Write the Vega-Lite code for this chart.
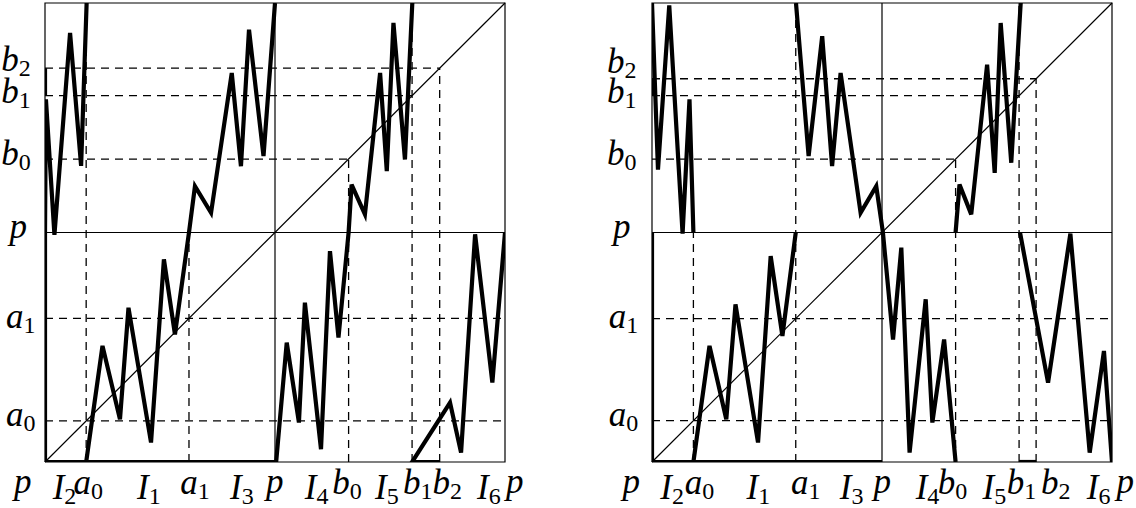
{
"$schema": "https://vega.github.io/schema/vega-lite/v6.json",
"background": "white",
"padding": {"left": 1, "top": 0, "right": 0, "bottom": 0},
"data": {"values": [
{"panel":"L","k":"thin","g":"f","x":0,"y":0},{"panel":"L","k":"thin","g":"f","x":200,"y":0},{"panel":"L","k":"thin","g":"f","x":200,"y":200},{"panel":"L","k":"thin","g":"f","x":0,"y":200},{"panel":"L","k":"thin","g":"f","x":0,"y":0},
{"panel":"L","k":"thin","g":"h","x":0,"y":100},{"panel":"L","k":"thin","g":"h","x":200,"y":100},
{"panel":"L","k":"thin","g":"v","x":100,"y":0},{"panel":"L","k":"thin","g":"v","x":100,"y":200},
{"panel":"L","k":"thin","g":"d","x":0,"y":0},{"panel":"L","k":"thin","g":"d","x":200,"y":200},
{"panel":"R","k":"thin","g":"f","x":0,"y":0},{"panel":"R","k":"thin","g":"f","x":200,"y":0},{"panel":"R","k":"thin","g":"f","x":200,"y":200},{"panel":"R","k":"thin","g":"f","x":0,"y":200},{"panel":"R","k":"thin","g":"f","x":0,"y":0},
{"panel":"R","k":"thin","g":"h","x":0,"y":100},{"panel":"R","k":"thin","g":"h","x":200,"y":100},
{"panel":"R","k":"thin","g":"v","x":100,"y":0},{"panel":"R","k":"thin","g":"v","x":100,"y":200},
{"panel":"R","k":"thin","g":"d","x":0,"y":0},{"panel":"R","k":"thin","g":"d","x":200,"y":200},

{"panel":"L","k":"dash","g":"a0h","x":0,"y":17.9},{"panel":"L","k":"dash","g":"a0h","x":200,"y":17.9},
{"panel":"L","k":"dash","g":"a1h","x":0,"y":62.6},{"panel":"L","k":"dash","g":"a1h","x":200,"y":62.6},
{"panel":"L","k":"dash","g":"a0v","x":17.9,"y":0},{"panel":"L","k":"dash","g":"a0v","x":17.9,"y":200},
{"panel":"L","k":"dash","g":"a1v","x":62.6,"y":0},{"panel":"L","k":"dash","g":"a1v","x":62.6,"y":100},
{"panel":"L","k":"dash","g":"b0h","x":0,"y":132},{"panel":"L","k":"dash","g":"b0h","x":132,"y":132},
{"panel":"L","k":"dash","g":"b0v","x":132,"y":0},{"panel":"L","k":"dash","g":"b0v","x":132,"y":132},
{"panel":"L","k":"dash","g":"b1h","x":0,"y":159.6},{"panel":"L","k":"dash","g":"b1h","x":159.6,"y":159.6},
{"panel":"L","k":"dash","g":"b1v","x":159.6,"y":0},{"panel":"L","k":"dash","g":"b1v","x":159.6,"y":200},
{"panel":"L","k":"dash","g":"b2h","x":0,"y":171.6},{"panel":"L","k":"dash","g":"b2h","x":171.6,"y":171.6},
{"panel":"L","k":"dash","g":"b2v","x":171.6,"y":0},{"panel":"L","k":"dash","g":"b2v","x":171.6,"y":171.6},

{"panel":"R","k":"dash","g":"a0h","x":0,"y":18},{"panel":"R","k":"dash","g":"a0h","x":200,"y":18},
{"panel":"R","k":"dash","g":"a1h","x":0,"y":62.5},{"panel":"R","k":"dash","g":"a1h","x":200,"y":62.5},
{"panel":"R","k":"dash","g":"a0v","x":18,"y":0},{"panel":"R","k":"dash","g":"a0v","x":18,"y":100},
{"panel":"R","k":"dash","g":"a1v","x":62.5,"y":0},{"panel":"R","k":"dash","g":"a1v","x":62.5,"y":200},
{"panel":"R","k":"dash","g":"b0h","x":0,"y":132},{"panel":"R","k":"dash","g":"b0h","x":132,"y":132},
{"panel":"R","k":"dash","g":"b0v","x":132,"y":0},{"panel":"R","k":"dash","g":"b0v","x":132,"y":132},
{"panel":"R","k":"dash","g":"b1h","x":0,"y":159.6},{"panel":"R","k":"dash","g":"b1h","x":159.6,"y":159.6},
{"panel":"R","k":"dash","g":"b1v","x":159.6,"y":0},{"panel":"R","k":"dash","g":"b1v","x":159.6,"y":200},
{"panel":"R","k":"dash","g":"b2h","x":0,"y":167},{"panel":"R","k":"dash","g":"b2h","x":167,"y":167},
{"panel":"R","k":"dash","g":"b2v","x":167,"y":0},{"panel":"R","k":"dash","g":"b2v","x":167,"y":167},

{"panel":"L","k":"thick","g":"t1","x":0,"y":100},{"panel":"L","k":"thick","g":"t1","x":0,"y":0},{"panel":"L","k":"thick","g":"t1","x":100,"y":0},
{"panel":"L","k":"thick","g":"t2","x":0,"y":159.6},{"panel":"L","k":"thick","g":"t2","x":0,"y":171.6},
{"panel":"L","k":"thick","g":"t3","x":0,"y":100},{"panel":"L","k":"thick","g":"t3","x":0.4,"y":158},{"panel":"L","k":"thick","g":"t3","x":4.1,"y":99},{"panel":"L","k":"thick","g":"t3","x":10.9,"y":187},{"panel":"L","k":"thick","g":"t3","x":15.7,"y":129},{"panel":"L","k":"thick","g":"t3","x":18.1,"y":200},
{"panel":"L","k":"thick","g":"t4","x":17.9,"y":0},{"panel":"L","k":"thick","g":"t4","x":25,"y":50.6},{"panel":"L","k":"thick","g":"t4","x":32.6,"y":18.6},{"panel":"L","k":"thick","g":"t4","x":36.3,"y":67.2},{"panel":"L","k":"thick","g":"t4","x":46.1,"y":8.5},{"panel":"L","k":"thick","g":"t4","x":51.7,"y":88.3},{"panel":"L","k":"thick","g":"t4","x":56.5,"y":55.6},{"panel":"L","k":"thick","g":"t4","x":62.6,"y":100},{"panel":"L","k":"thick","g":"t4","x":65.2,"y":120.2},{"panel":"L","k":"thick","g":"t4","x":72.2,"y":108.6},{"panel":"L","k":"thick","g":"t4","x":81.2,"y":169.5},{"panel":"L","k":"thick","g":"t4","x":85.2,"y":128.9},{"panel":"L","k":"thick","g":"t4","x":88.7,"y":188.4},{"panel":"L","k":"thick","g":"t4","x":95,"y":133.3},{"panel":"L","k":"thick","g":"t4","x":100,"y":200},
{"panel":"L","k":"thick","g":"t5","x":100.5,"y":0},{"panel":"L","k":"thick","g":"t5","x":105.1,"y":52},{"panel":"L","k":"thick","g":"t5","x":110.4,"y":17.2},{"panel":"L","k":"thick","g":"t5","x":113,"y":69.4},{"panel":"L","k":"thick","g":"t5","x":120,"y":5.6},{"panel":"L","k":"thick","g":"t5","x":123.9,"y":91.9},{"panel":"L","k":"thick","g":"t5","x":127.6,"y":54.2},{"panel":"L","k":"thick","g":"t5","x":132,"y":100},{"panel":"L","k":"thick","g":"t5","x":133.3,"y":120.9},{"panel":"L","k":"thick","g":"t5","x":139.1,"y":107.9},{"panel":"L","k":"thick","g":"t5","x":145.7,"y":169.5},{"panel":"L","k":"thick","g":"t5","x":148.6,"y":126.7},{"panel":"L","k":"thick","g":"t5","x":151.5,"y":191.3},{"panel":"L","k":"thick","g":"t5","x":156.5,"y":131.8},{"panel":"L","k":"thick","g":"t5","x":159.7,"y":200},
{"panel":"L","k":"thick","g":"t6","x":171.6,"y":0},{"panel":"L","k":"thick","g":"t6","x":159.6,"y":0},{"panel":"L","k":"thick","g":"t6","x":176.1,"y":25.9},{"panel":"L","k":"thick","g":"t6","x":180.9,"y":4.1},{"panel":"L","k":"thick","g":"t6","x":187,"y":99.2},{"panel":"L","k":"thick","g":"t6","x":194.5,"y":34.6},{"panel":"L","k":"thick","g":"t6","x":200,"y":100},

{"panel":"R","k":"thick","g":"t1","x":0,"y":100},{"panel":"R","k":"thick","g":"t1","x":0,"y":0},{"panel":"R","k":"thick","g":"t1","x":100,"y":0},
{"panel":"R","k":"thick","g":"t2","x":0,"y":159.6},{"panel":"R","k":"thick","g":"t2","x":0,"y":167},
{"panel":"R","k":"thick","g":"t3","x":0,"y":200},{"panel":"R","k":"thick","g":"t3","x":2.6,"y":127.4},{"panel":"R","k":"thick","g":"t3","x":7.5,"y":199},{"panel":"R","k":"thick","g":"t3","x":13.3,"y":99.5},{"panel":"R","k":"thick","g":"t3","x":16.3,"y":158},{"panel":"R","k":"thick","g":"t3","x":18,"y":100},
{"panel":"R","k":"thick","g":"t4","x":18,"y":0},{"panel":"R","k":"thick","g":"t4","x":25,"y":50.6},{"panel":"R","k":"thick","g":"t4","x":32.3,"y":18.6},{"panel":"R","k":"thick","g":"t4","x":36.3,"y":68.7},{"panel":"R","k":"thick","g":"t4","x":46.1,"y":8.5},{"panel":"R","k":"thick","g":"t4","x":51.6,"y":89.7},{"panel":"R","k":"thick","g":"t4","x":56.7,"y":54.9},{"panel":"R","k":"thick","g":"t4","x":62.5,"y":100},
{"panel":"R","k":"thick","g":"t5","x":62.6,"y":200},{"panel":"R","k":"thick","g":"t5","x":68.1,"y":133.3},{"panel":"R","k":"thick","g":"t5","x":74,"y":185.5},{"panel":"R","k":"thick","g":"t5","x":78.3,"y":128.9},{"panel":"R","k":"thick","g":"t5","x":82,"y":169.5},{"panel":"R","k":"thick","g":"t5","x":90.7,"y":108.6},{"panel":"R","k":"thick","g":"t5","x":97.5,"y":120.2},{"panel":"R","k":"thick","g":"t5","x":100.4,"y":100},{"panel":"R","k":"thick","g":"t5","x":104.8,"y":53.4},{"panel":"R","k":"thick","g":"t5","x":108.4,"y":93.4},{"panel":"R","k":"thick","g":"t5","x":112,"y":4.1},{"panel":"R","k":"thick","g":"t5","x":119,"y":70.9},{"panel":"R","k":"thick","g":"t5","x":121.9,"y":17.2},{"panel":"R","k":"thick","g":"t5","x":127,"y":53.4},{"panel":"R","k":"thick","g":"t5","x":132,"y":0},
{"panel":"R","k":"thick","g":"t6","x":132,"y":100},{"panel":"R","k":"thick","g":"t6","x":133.7,"y":120.9},{"panel":"R","k":"thick","g":"t6","x":138.8,"y":107.9},{"panel":"R","k":"thick","g":"t6","x":145.7,"y":173.1},{"panel":"R","k":"thick","g":"t6","x":149,"y":126},{"panel":"R","k":"thick","g":"t6","x":151.6,"y":191.3},{"panel":"R","k":"thick","g":"t6","x":156.2,"y":130.4},{"panel":"R","k":"thick","g":"t6","x":160.3,"y":200},
{"panel":"R","k":"thick","g":"t7","x":160,"y":100},{"panel":"R","k":"thick","g":"t7","x":172.2,"y":34.6},{"panel":"R","k":"thick","g":"t7","x":181.9,"y":99.5},{"panel":"R","k":"thick","g":"t7","x":190.3,"y":4.1},{"panel":"R","k":"thick","g":"t7","x":196.5,"y":48.4},{"panel":"R","k":"thick","g":"t7","x":200,"y":0},
{"panel":"R","k":"thick","g":"t8","x":159.6,"y":0},{"panel":"R","k":"thick","g":"t8","x":167,"y":0},

{"panel":"L","k":"plab","x":-9.7,"y":-13.3,"m":"p"},
{"panel":"L","k":"lab","x":8.4,"y":-16.3,"m":"I","s":"2"},
{"panel":"L","k":"lab","x":20,"y":-14.1,"m":"a","s":"0"},
{"panel":"L","k":"lab","x":45.1,"y":-16.3,"m":"I","s":"1"},
{"panel":"L","k":"lab","x":66.4,"y":-14.1,"m":"a","s":"1"},
{"panel":"L","k":"lab","x":85.5,"y":-16.3,"m":"I","s":"3"},
{"panel":"L","k":"plab","x":99.9,"y":-13.3,"m":"p"},
{"panel":"L","k":"lab","x":118,"y":-16.3,"m":"I","s":"4"},
{"panel":"L","k":"lab","x":132.5,"y":-14.1,"m":"b","s":"0"},
{"panel":"L","k":"lab","x":148.6,"y":-16.3,"m":"I","s":"5"},
{"panel":"L","k":"lab","x":163.3,"y":-14.1,"m":"b","s":"1"},
{"panel":"L","k":"lab","x":176.1,"y":-14.1,"m":"b","s":"2"},
{"panel":"L","k":"lab","x":192.9,"y":-16.3,"m":"I","s":"6"},
{"panel":"L","k":"plab","x":204.2,"y":-13.3,"m":"p"},
{"panel":"L","k":"lab","x":-11.4,"y":170.4,"m":"b","s":"2"},
{"panel":"L","k":"lab","x":-11.4,"y":156.5,"m":"b","s":"1"},
{"panel":"L","k":"lab","x":-11.4,"y":129.5,"m":"b","s":"0"},
{"panel":"L","k":"plab","x":-11.6,"y":97.7,"m":"p"},
{"panel":"L","k":"lab","x":-9.3,"y":58.5,"m":"a","s":"1"},
{"panel":"L","k":"lab","x":-9.3,"y":15.9,"m":"a","s":"0"},

{"panel":"R","k":"plab","x":-9,"y":-13.3,"m":"p"},
{"panel":"R","k":"lab","x":8.7,"y":-16.3,"m":"I","s":"2"},
{"panel":"R","k":"lab","x":21.8,"y":-14.1,"m":"a","s":"0"},
{"panel":"R","k":"lab","x":46.2,"y":-16.3,"m":"I","s":"1"},
{"panel":"R","k":"lab","x":68,"y":-14.1,"m":"a","s":"1"},
{"panel":"R","k":"lab","x":86.7,"y":-16.3,"m":"I","s":"3"},
{"panel":"R","k":"plab","x":100.1,"y":-13.3,"m":"p"},
{"panel":"R","k":"lab","x":119.7,"y":-16.3,"m":"I","s":"4"},
{"panel":"R","k":"lab","x":131.9,"y":-14.1,"m":"b","s":"0"},
{"panel":"R","k":"lab","x":148.8,"y":-16.3,"m":"I","s":"5"},
{"panel":"R","k":"lab","x":161.9,"y":-14.1,"m":"b","s":"1"},
{"panel":"R","k":"lab","x":176.7,"y":-14.1,"m":"b","s":"2"},
{"panel":"R","k":"lab","x":194.1,"y":-16.3,"m":"I","s":"6"},
{"panel":"R","k":"plab","x":205.8,"y":-13.3,"m":"p"},
{"panel":"R","k":"lab","x":-12,"y":169.5,"m":"b","s":"2"},
{"panel":"R","k":"lab","x":-12,"y":156.5,"m":"b","s":"1"},
{"panel":"R","k":"lab","x":-12,"y":129.5,"m":"b","s":"0"},
{"panel":"R","k":"plab","x":-13.1,"y":97.7,"m":"p"},
{"panel":"R","k":"lab","x":-11.2,"y":58.5,"m":"a","s":"1"},
{"panel":"R","k":"lab","x":-11.2,"y":15.9,"m":"a","s":"0"}
]},
"facet": {"column": {"field": "panel", "type": "nominal", "header": null}},
"spacing": 147,
"bounds": "flush",
"spec": {
  "width": 460,
  "height": 459,
  "encoding": {
    "x": {"field": "x", "type": "quantitative", "scale": {"domain": [0, 200], "nice": false, "zero": false}, "axis": null},
    "y": {"field": "y", "type": "quantitative", "scale": {"domain": [0, 200], "nice": false, "zero": false}, "axis": null}
  },
  "layer": [
    {"transform": [{"filter": "datum.k == 'thin'"}],
     "mark": {"type": "line", "stroke": "black", "strokeWidth": 1.2},
     "encoding": {"detail": {"field": "g"}, "order": {"value": null}}},
    {"transform": [{"filter": "datum.k == 'dash'"}],
     "mark": {"type": "line", "stroke": "black", "strokeWidth": 1.3, "strokeDash": [8, 6]},
     "encoding": {"detail": {"field": "g"}, "order": {"value": null}}},
    {"transform": [{"filter": "datum.k == 'thick'"}],
     "mark": {"type": "line", "stroke": "black", "strokeWidth": 4.2, "strokeJoin": "miter", "strokeCap": "butt", "clip": true},
     "encoding": {"detail": {"field": "g"}, "order": {"value": null}}},
    {"transform": [{"filter": "datum.k == 'lab'"}],
     "mark": {"type": "text", "align": "right", "baseline": "alphabetic", "font": "Liberation Serif", "fontStyle": "italic", "fontSize": 35, "color": "black"},
     "encoding": {"text": {"field": "m"}}},
    {"transform": [{"filter": "datum.k == 'lab'"}],
     "mark": {"type": "text", "align": "left", "baseline": "alphabetic", "dy": 5, "font": "Liberation Serif", "fontSize": 24, "color": "black"},
     "encoding": {"text": {"field": "s"}}},
    {"transform": [{"filter": "datum.k == 'plab'"}],
     "mark": {"type": "text", "align": "center", "baseline": "alphabetic", "font": "Liberation Serif", "fontStyle": "italic", "fontSize": 35, "color": "black"},
     "encoding": {"text": {"field": "m"}}}
  ]
},
"config": {"view": {"stroke": null}}
}
